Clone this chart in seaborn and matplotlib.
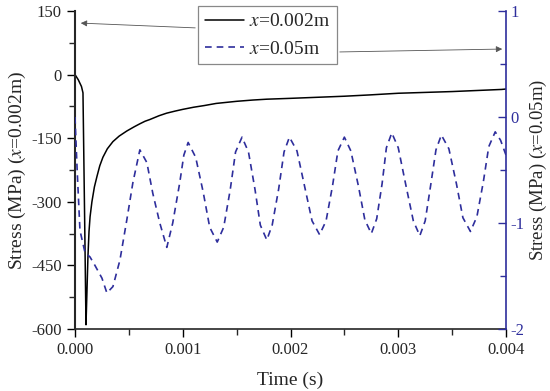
import numpy as np
import pandas as pd
import seaborn as sns
import matplotlib.pyplot as plt

# x = 0.002 m, left axis (MPa)
t_near = [0.0, 0.00003, 0.00006, 0.000074, 0.00009, 0.000102, 0.00011, 0.00012,
          0.00013, 0.00014, 0.000157, 0.00018, 0.000204, 0.00023, 0.000259,
          0.0003, 0.000352, 0.00041, 0.000481, 0.00055, 0.000602, 0.00065,
          0.000694, 0.00078, 0.00085, 0.00093, 0.001, 0.0011, 0.0012, 0.00131,
          0.0015, 0.00165, 0.00178, 0.002, 0.0025, 0.00273, 0.003, 0.0035,
          0.00396, 0.004]
s_near = [0, -12, -28, -43, -350, -590, -520, -430,
          -370, -335, -300, -265, -240, -215, -195,
          -175, -158, -145, -133, -123, -116, -110,
          -106, -97, -91, -86, -82, -77, -73, -68,
          -63, -60, -58, -56, -51, -48, -44, -40,
          -35, -34]

# x = 0.05 m, right axis (MPa)
t_far = [0.0, 0.00002, 0.000046, 0.000093, 0.000139, 0.000185, 0.00025, 0.000296,
         0.000352, 0.000417, 0.000481, 0.000537, 0.000602, 0.000667, 0.000722,
         0.000787, 0.000852, 0.000907, 0.000972, 0.00101, 0.00105,
         0.00112, 0.00119, 0.00125, 0.00132, 0.00138, 0.00144, 0.00149, 0.00155,
         0.00161, 0.00167, 0.00172, 0.00178, 0.00183, 0.00189, 0.00194, 0.00199,
         0.00206, 0.00213, 0.0022, 0.00227, 0.00233, 0.00239, 0.00244, 0.0025,
         0.00256, 0.00263, 0.00269, 0.00275, 0.0028, 0.00285, 0.00289, 0.00294,
         0.003, 0.00307, 0.00314, 0.0032, 0.00325, 0.0033, 0.00335, 0.0034,
         0.00347, 0.00354, 0.0036, 0.00367, 0.00373, 0.00379, 0.00384, 0.0039,
         0.00395, 0.004]
s_far = [0.0, -0.5, -1.07, -1.28, -1.32, -1.40, -1.52, -1.66,
         -1.60, -1.35, -0.97, -0.62, -0.31, -0.43, -0.72,
         -1.0, -1.23, -1.0, -0.62, -0.36, -0.24,
         -0.38, -0.71, -1.04, -1.18, -1.04, -0.69, -0.33, -0.19,
         -0.33, -0.68, -1.02, -1.16, -1.02, -0.68, -0.33, -0.19,
         -0.32, -0.65, -0.98, -1.11, -0.98, -0.65, -0.32, -0.19,
         -0.32, -0.65, -0.97, -1.10, -0.96, -0.63, -0.29, -0.15,
         -0.29, -0.64, -0.98, -1.12, -0.98, -0.65, -0.31, -0.17,
         -0.30, -0.63, -0.95, -1.08, -0.94, -0.61, -0.28, -0.14,
         -0.22, -0.36]

blue = "#2e2e9c"

sns.set_style("ticks")
plt.rcParams["font.family"] = ["Liberation Serif", "DejaVu Serif"]
plt.rcParams["mathtext.fontset"] = "stix"
plt.rcParams["axes.unicode_minus"] = False

fig = plt.figure(figsize=(5.5, 3.91), dpi=100)
ax = fig.add_axes([75 / 550, 62 / 391, 431 / 550, 318 / 391])
ax2 = ax.twinx()

df1 = pd.DataFrame({"t": t_near, "s": s_near})
df2 = pd.DataFrame({"t": t_far, "s": s_far})
sns.lineplot(data=df1, x="t", y="s", ax=ax, color="black", lw=1.1,
             label="$x$=0.002m", legend=False)
sns.lineplot(data=df2, x="t", y="s", ax=ax2, color=blue, lw=1.2,
             label="$x$=0.05m", legend=False)
ax2.lines[0].set_dashes((4, 3))

ax.set_xlim(0, 0.004)
ax.set_ylim(-600, 150)
ax2.set_ylim(-2, 1)
ax.set_xticks([0, 0.001, 0.002, 0.003, 0.004])
ax.set_xticklabels(["0.000", "0.001", "0.002", "0.003", "0.004"])
ax.set_xticks([0.0005, 0.0015, 0.0025, 0.0035], minor=True)
ax.set_yticks([150, 0, -150, -300, -450, -600])
ax.set_yticks([75, -75, -225, -375, -525], minor=True)
ax2.set_yticks([1, 0, -1, -2])
ax2.set_yticks([0.5, -0.5, -1.5], minor=True)

for a in (ax, ax2):
    a.spines["top"].set_visible(False)
ax.spines["left"].set_linewidth(1.5)
ax.spines["bottom"].set_linewidth(1.2)
ax.spines["right"].set_visible(False)
ax2.spines["left"].set_visible(False)
ax2.spines["bottom"].set_visible(False)
ax2.spines["right"].set_color(blue)
ax2.spines["right"].set_linewidth(1.2)

ax.tick_params(axis="both", which="major", direction="out", length=6, width=1,
               labelsize=12, color="black")
ax.tick_params(axis="both", which="minor", direction="out", length=4, width=1)
ax2.tick_params(axis="y", which="major", direction="in", length=6, width=1,
                labelsize=12, color=blue, labelcolor=blue, pad=3)
ax2.tick_params(axis="y", which="minor", direction="in", length=4, width=1,
                color=blue)

ax.set_xlabel("Time (s)", fontsize=14, labelpad=10)
ax.set_ylabel("Stress (MPa) ($x$=0.002m)", fontsize=14, labelpad=2)
ax2.set_ylabel("Stress (MPa) ($x$=0.05m)", fontsize=13.5, labelpad=3)

h1, l1 = ax.get_legend_handles_labels()
h2, l2 = ax2.get_legend_handles_labels()
leg = ax.legend(h1 + h2, l1 + l2, loc="upper left",
                bbox_to_anchor=(0.285, 1.016), borderaxespad=0,
                fontsize=14, frameon=True, fancybox=False, handlelength=2.0,
                handletextpad=0.3, borderpad=0.35, labelspacing=0.5)
leg.get_frame().set_edgecolor("#888888")
leg.get_frame().set_linewidth(0.9)
leg.get_frame().set_alpha(1)

arrow = dict(arrowstyle="-|>", color="#555555", lw=0.6, mutation_scale=9)
ax.annotate("", xy=(78, 391 - 23), xytext=(198, 391 - 28),
            xycoords="figure pixels", textcoords="figure pixels",
            arrowprops=arrow)
ax.annotate("", xy=(505, 391 - 49), xytext=(337, 391 - 52),
            xycoords="figure pixels", textcoords="figure pixels",
            arrowprops=arrow)

fig.savefig("out.png", dpi=100)
